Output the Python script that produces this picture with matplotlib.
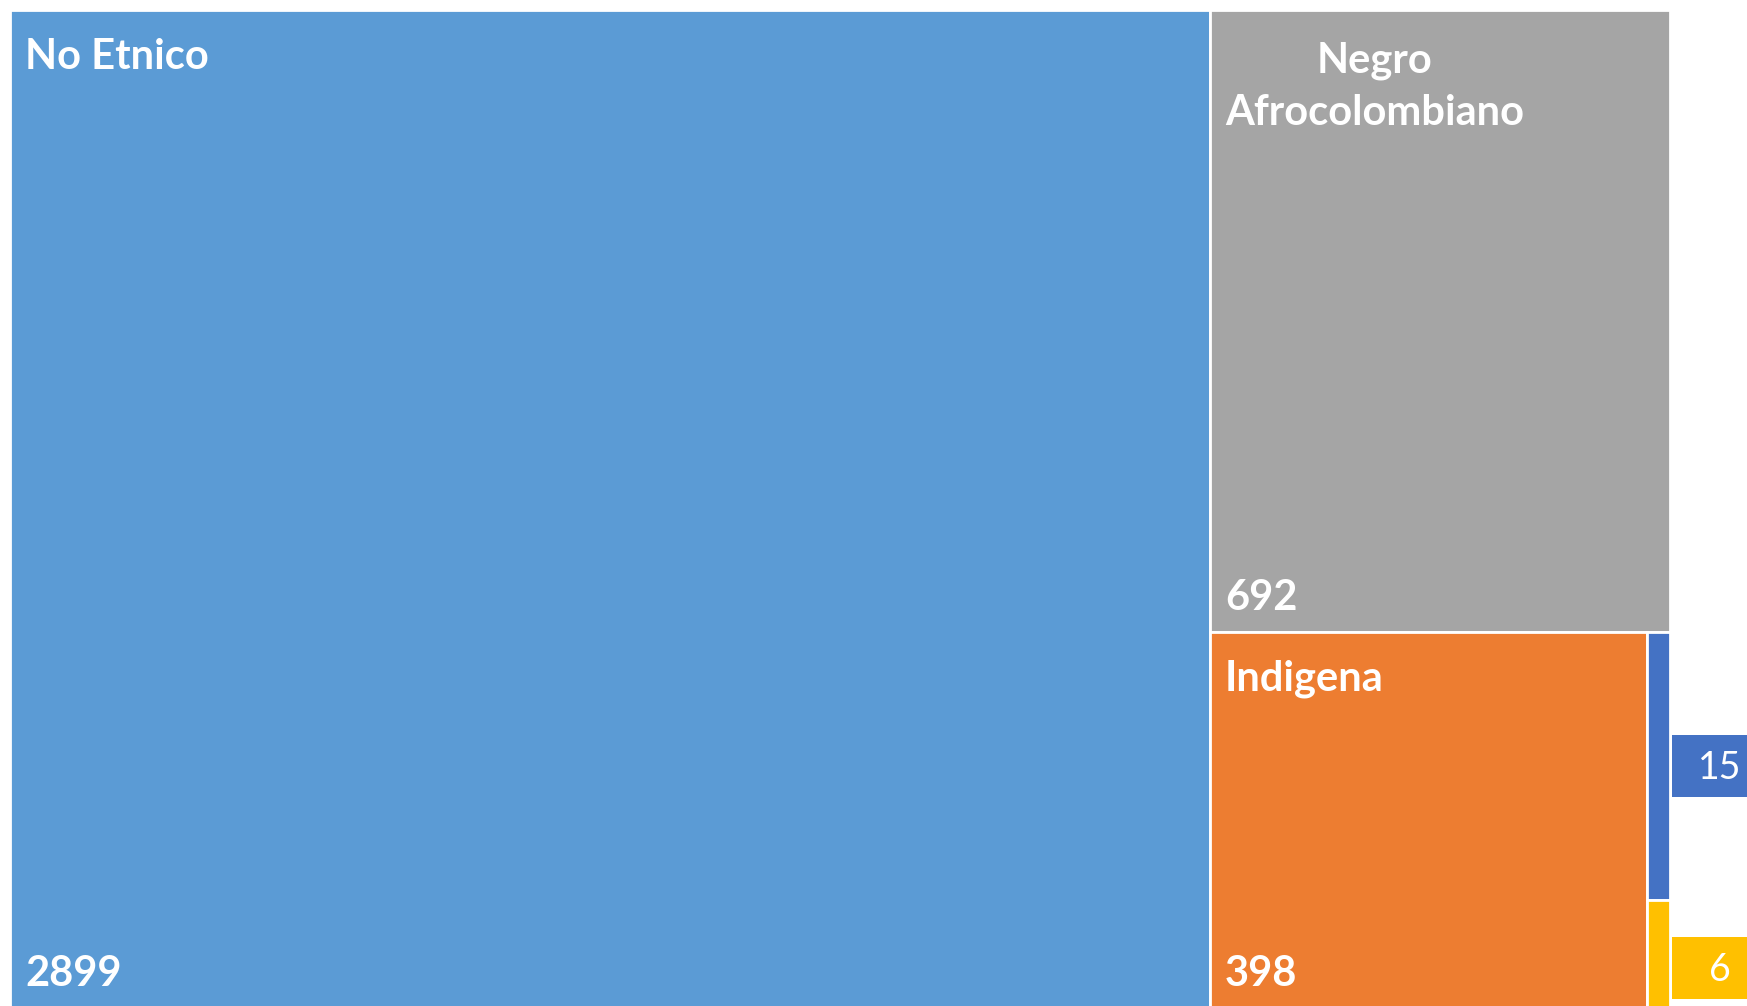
import matplotlib.pyplot as plt
from matplotlib.patches import Rectangle

plt.rcParams['font.family'] = ['Lato', 'DejaVu Sans']

# Treemap data
labels = ['No Etnico', 'Negro\nAfrocolombiano', 'Indigena', 'Rom', 'Raizal']
values = [2899, 692, 398, 15, 6]
colors = ['#5B9BD5', '#A5A5A5', '#ED7D31', '#4472C4', '#FFC000']
show_name = [True, True, True, False, False]


def slice_dice(vals, x, y, w, h):
    """Alternate vertical / horizontal splits: first item takes its share, rest recurse."""
    rects = []
    vertical = True
    for i, v in enumerate(vals):
        rest = sum(vals[i:])
        if i == len(vals) - 1:
            rects.append((x, y, w, h))
            break
        frac = v / rest
        if vertical:
            rects.append((x, y, w * frac, h))
            x, w = x + w * frac, w * (1 - frac)
        else:
            rects.append((x, y, w, h * frac))
            y, h = y + h * frac, h * (1 - frac)
        vertical = not vertical
    return rects


W, H = 1747, 1006
fig = plt.figure(figsize=(W / 100, H / 100), dpi=100)
# plot area in pixels: x 10..1670, y 10..1008 (from top)
ax = fig.add_axes([10 / W, (H - 1008) / H, 1660 / W, 998 / H])
ax.set_xlim(0, 1)
ax.set_ylim(1, 0)
ax.axis('off')

FS = 30
rects = slice_dice(values, 0, 0, 1, 1)
for (x, y, w, h), lab, val, col, named in zip(rects, labels, values, colors, show_name):
    ax.add_patch(Rectangle((x, y), w, h, facecolor=col, edgecolor='white', linewidth=2))
    if named:
        if '\n' in lab:
            ax.annotate(lab, (x, y), xytext=(15, -115), textcoords='offset pixels',
                        ha='left', va='baseline', color='white', fontsize=FS,
                        fontweight='bold', multialignment='center', linespacing=1.45)
        else:
            ax.annotate(lab, (x, y), xytext=(15, -59), textcoords='offset pixels',
                        ha='left', va='baseline', color='white', fontsize=FS,
                        fontweight='bold')
        ax.annotate(str(val), (x, y + h), xytext=(15, 22), textcoords='offset pixels',
                    ha='left', va='baseline', color='white', fontsize=FS,
                    fontweight='bold')
    else:
        # small tiles: value shown in a callout box outside on the right
        cy = y + h / 2
        if h < 0.12:
            cy += 0.014
        bh = 62 / 998
        ax.add_patch(Rectangle((1.0013, cy - bh / 2), 100 / 1660, bh, facecolor=col,
                               edgecolor='none', clip_on=False))
        ax.text(1.0013 + 48 / 1660, cy + 0.002, str(val), ha='center', va='center',
                color='white', fontsize=27, clip_on=False)

fig.savefig('out.png', dpi=100)
